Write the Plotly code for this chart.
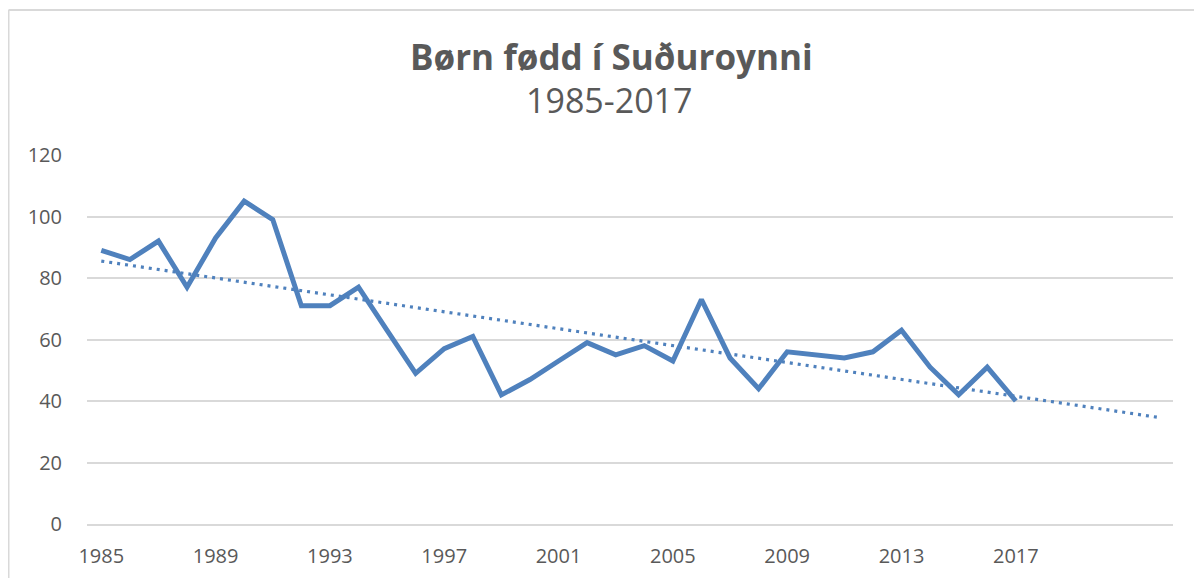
import numpy as np
import plotly.graph_objects as go

years = [str(y) for y in range(1985, 2018)]
births = [89, 86, 92, 77, 93, 105, 99, 71, 71, 77, 63, 49, 57, 61, 42, 47, 53, 59, 55, 58,
          53, 73, 54, 44, 56, 55, 54, 56, 63, 51, 42, 51, 40]
forecast_years = [str(y) for y in range(2018, 2023)]
tick_labels = ["1985", "1989", "1993", "1997", "2001", "2005", "2009", "2013", "2017"]
y_ticks = [0, 20, 40, 60, 80, 100, 120]

all_years = years + forecast_years

# Linear trendline (as Excel computes it), extended 5 periods forward
idx = np.arange(len(births))
slope, intercept = np.polyfit(idx, births, 1)
trend = list(slope * np.arange(len(all_years)) + intercept)

blue = "#4F81BD"
grey_txt = "#595959"
font_family = "'Open Sans', Lato, sans-serif"

W, H = 1194, 570
L, R, T, B = 79, 29, 147, 54
pw, ph = W - L - R, H - T - B

fig = go.Figure()
fig.add_trace(go.Scatter(x=years, y=births, mode="lines",
                         line=dict(color=blue, width=5), showlegend=False))
fig.add_trace(go.Scatter(x=all_years, y=trend, mode="lines",
                         line=dict(color=blue, width=3.2, dash="3px,5px"), showlegend=False))

fig.update_layout(
    width=W, height=H,
    margin=dict(l=L, r=R, t=T, b=B, autoexpand=False),
    paper_bgcolor="white", plot_bgcolor="white",
    font=dict(family=font_family, color=grey_txt),
    xaxis=dict(type="category", categoryorder="array", categoryarray=all_years,
               tickmode="array", tickvals=tick_labels, ticktext=tick_labels,
               showgrid=False, showline=True, linecolor="#D9D9D9", linewidth=1.5,
               ticks="", tickfont=dict(size=20, color=grey_txt), ticklabelstandoff=13,
               automargin=False, range=[-0.5, len(all_years) - 0.5]),
    yaxis=dict(range=[0, 120], tickvals=y_ticks, showgrid=True, gridcolor="#D9D9D9",
               gridwidth=1.5, zeroline=False, showline=False, ticks="", automargin=False,
               tickfont=dict(size=20, color=grey_txt), ticklabelstandoff=24),
    annotations=[
        dict(text="<b>Børn fødd í Suðuroynni</b>", xref="paper", yref="paper",
             x=(603 - L) / pw, y=1.0, xanchor="center", yanchor="middle", yshift=99,
             showarrow=False, font=dict(size=35, color=grey_txt, family=font_family)),
        dict(text="1985-2017", xref="paper", yref="paper",
             x=(601 - L) / pw, y=1.0, xanchor="center", yanchor="middle", yshift=55,
             showarrow=False, font=dict(size=34, color=grey_txt, family=font_family)),
    ],
    shapes=[
        dict(type="line", xref="paper", yref="paper",
             x0=(0.5 - L) / pw, x1=(W - L) / pw, y0=1 + (T - 2) / ph, y1=1 + (T - 2) / ph,
             line=dict(color="#D9D9D9", width=2)),
        dict(type="line", xref="paper", yref="paper",
             x0=(0.5 - L) / pw, x1=(0.5 - L) / pw, y0=1 + (T - 2) / ph, y1=-B / ph,
             line=dict(color="#D9D9D9", width=2)),
    ],
)

fig.write_html("out.html")
